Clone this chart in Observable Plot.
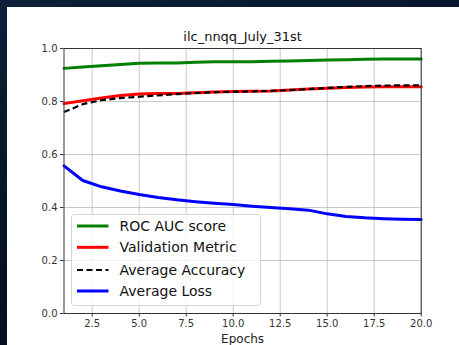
<!DOCTYPE html>
<html>
<head>
<meta charset="utf-8">
<script src="https://cdn.jsdelivr.net/npm/d3@7"></script>
<script src="https://cdn.jsdelivr.net/npm/@observablehq/plot@0.6"></script>
<style>
  html, body { margin: 0; padding: 0; }
  body { width: 459px; height: 345px; overflow: hidden; background: linear-gradient(160deg, #0d2038 0%, #051226 50%, #020a18 100%); position: relative; font-family: "DejaVu Sans", sans-serif; }
  #panel { position: absolute; left: 7px; top: 7px; width: 452px; height: 338px; background: #fff; }
  #legend { position: absolute; left: 64px; top: 207px; }
</style>
</head>
<body>
<div id="panel"></div>
<script>
const title = "ilc_nnqq_July_31st";
const xLabel = "Epochs";
const epochs = [1,2,3,4,5,6,7,8,9,10,11,12,13,14,15,16,17,18,19,20];
const rocAuc = [0.925,0.930,0.935,0.940,0.944,0.945,0.945,0.948,0.950,0.950,0.950,0.952,0.953,0.955,0.957,0.958,0.959,0.960,0.960,0.960];
const validation = [0.792,0.803,0.813,0.823,0.828,0.830,0.830,0.833,0.836,0.838,0.839,0.840,0.843,0.847,0.850,0.853,0.855,0.856,0.856,0.856];
const accuracy = [0.760,0.790,0.805,0.813,0.818,0.823,0.828,0.832,0.835,0.837,0.838,0.840,0.843,0.847,0.851,0.855,0.858,0.860,0.861,0.861];
const loss = [0.557,0.502,0.478,0.462,0.449,0.438,0.429,0.422,0.416,0.411,0.405,0.400,0.395,0.390,0.376,0.366,0.361,0.358,0.356,0.355];
const xTicks = [2.5,5,7.5,10,12.5,15,17.5,20];
const yTicks = [0,0.2,0.4,0.6,0.8,1.0];
const seriesNames = ["ROC AUC score","Validation Metric","Average Accuracy","Average Loss"];
const seriesColors = ["#008000","#ff0000","#000000","#0000ff"];
const seriesDash = [null,null,"6,3.5",null];

const seriesValues = [rocAuc, validation, accuracy, loss];
const series = seriesNames.map((name, i) => ({
  name, color: seriesColors[i], dash: seriesDash[i],
  data: epochs.map((e, j) => ({epoch: e, value: seriesValues[i][j]}))
}));

const lineMarks = series.map(s => Plot.line(s.data, {
  x: "epoch", y: "value", stroke: s.color,
  strokeWidth: s.dash ? 2.2 : 3,
  strokeDasharray: s.dash || undefined,
  strokeLinejoin: "round", strokeLinecap: s.dash ? "butt" : "round"
}));

const chart = Plot.plot({
  width: 452, height: 338,
  marginLeft: 56.5, marginTop: 41, marginRight: 38.3, marginBottom: 32,
  style: {fontFamily: "DejaVu Sans, sans-serif", fontSize: "10px", color: "#333", background: "transparent"},
  x: {domain: [1, 20], ticks: xTicks, tickFormat: d => d.toFixed(1), tickSize: 3.5, tickPadding: 3.5, label: null},
  y: {domain: [0, 1], ticks: yTicks, tickFormat: d => d.toFixed(1), tickSize: 3.5, tickPadding: 3.5, label: null},
  marks: [
    Plot.gridX(xTicks, {stroke: "#b0b0b0", strokeOpacity: 0.7, strokeWidth: 1}),
    Plot.gridY(yTicks, {stroke: "#b0b0b0", strokeOpacity: 0.7, strokeWidth: 1}),
    ...lineMarks,
    Plot.frame({stroke: "#333", strokeWidth: 1}),
    Plot.axisX(xTicks, {tickFormat: d => d.toFixed(1), tickSize: 3.5, tickPadding: 3, fill: "#333", stroke: "#333", label: null}),
    Plot.axisY(yTicks, {tickFormat: d => d.toFixed(1), tickSize: 3.5, tickPadding: 3, fill: "#333", stroke: "#333", label: null}),
    Plot.text([title], {frameAnchor: "top", dy: -17, fontSize: 13, fill: "#111", text: d => d}),
    Plot.text([xLabel], {frameAnchor: "bottom", dy: 29, fontSize: 12, fill: "#222", text: d => d})
  ]
});
document.getElementById("panel").appendChild(chart);

// Legend
const ns = "http://www.w3.org/2000/svg";
const lg = document.createElementNS(ns, "svg");
lg.setAttribute("id", "legend");
lg.setAttribute("width", 192);
lg.setAttribute("height", 94);
const box = document.createElementNS(ns, "rect");
box.setAttribute("x", 0.5); box.setAttribute("y", 0.5);
box.setAttribute("width", 189); box.setAttribute("height", 91);
box.setAttribute("rx", 3);
box.setAttribute("fill", "rgba(255,255,255,0.8)");
box.setAttribute("stroke", "#d5d5d5");
lg.appendChild(box);
const rowY = [12, 33.3, 56, 77];
series.forEach((s, i) => {
  const ln = document.createElementNS(ns, "line");
  ln.setAttribute("x1", 6); ln.setAttribute("x2", 37.5);
  ln.setAttribute("y1", rowY[i]); ln.setAttribute("y2", rowY[i]);
  ln.setAttribute("stroke", s.color);
  ln.setAttribute("stroke-width", s.dash ? 2.2 : 3);
  if (s.dash) ln.setAttribute("stroke-dasharray", s.dash);
  lg.appendChild(ln);
  const tx = document.createElementNS(ns, "text");
  tx.setAttribute("x", 48.5); tx.setAttribute("y", rowY[i]);
  tx.setAttribute("dy", "0.35em");
  tx.setAttribute("font-size", "14px");
  tx.setAttribute("font-family", "DejaVu Sans, sans-serif");
  tx.setAttribute("fill", "#111");
  tx.textContent = s.name;
  lg.appendChild(tx);
});
document.getElementById("panel").appendChild(lg);
</script>
</body>
</html>
